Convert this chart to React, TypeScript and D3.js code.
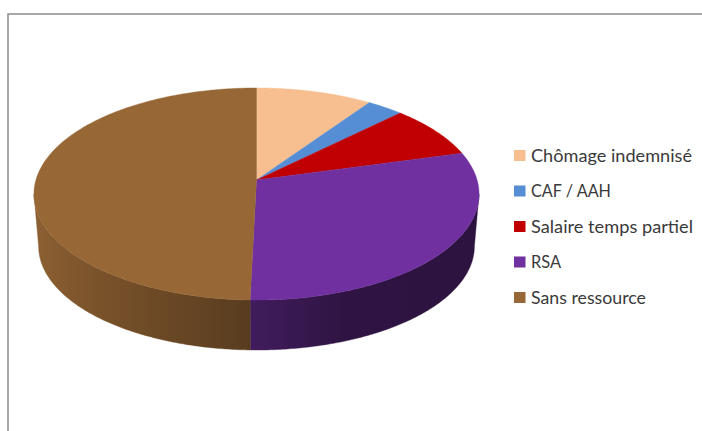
import React from "react";
import * as d3 from "d3";

// Shares of each income source, in percent
const categories = ["Chômage indemnisé", "CAF / AAH", "Salaire temps partiel", "RSA", "Sans ressource"];
const shares = [9.6, 3, 8.1, 29.7, 49.6];
const colors = ["#F7BF8F", "#558ED5", "#C00000", "#7030A0", "#976735"];

// Set width of each legend label, in pixels
const labelWidths = [161, 80, 162, 30, 115];

// Brightness of the pie's side wall from left to right
const shadeX = [38, 100, 250, 345, 475];
const shadeK = [0.92, 0.8, 0.58, 0.42, 0.4];

const WIDTH = 702;
const HEIGHT = 431;

// Perspective of the disc: the near rim appears larger than the far rim
const TILT = 0.132;
const top = { cx: 256.5, cy: 180, rx: 220.6, ry: 104.2 };
const base = { cx: 256.5, cy: 232.5, rx: 216, ry: 102 };
const frontStart = Math.acos(-TILT);
const frontEnd = 2 * Math.PI - frontStart;

type Disc = typeof top;

function project(d: Disc, angle: number): [number, number] {
  const u = Math.sin(angle);
  const v = -Math.cos(angle);
  const w = 1 - TILT * v;
  return [d.cx + (d.rx * u) / w, d.cy + (d.ry * v) / w];
}

function samples(a0: number, a1: number): number[] {
  const n = Math.max(2, Math.ceil((a1 - a0) / 0.01));
  return d3.range(n + 1).map((i) => a0 + ((a1 - a0) * i) / n);
}

const line = d3.line();
const pie = d3.pie<number>().sort(null);
const arcs = pie(shares);
const shade = d3.scaleLinear<number>().domain(shadeX).range(shadeK).clamp(true);

function scaled(color: string, k: number): string {
  const c = d3.rgb(color);
  return d3.rgb(c.r * k, c.g * k, c.b * k).formatHex();
}

export default function App() {
  const legendY = d3.scalePoint<string>().domain(categories).range([155.5, 297.5]);

  const walls = arcs
    .map((a, i) => ({ i, a0: Math.max(a.startAngle, frontStart), a1: Math.min(a.endAngle, frontEnd) }))
    .filter((w) => w.a1 > w.a0);

  return (
    <svg
      width={WIDTH}
      height={HEIGHT}
      viewBox={`0 0 ${WIDTH} ${HEIGHT}`}
      style={{ position: "absolute", left: 0, top: 0, background: "#fff" }}
    >
      <defs>
        {walls.map((w) => {
          const xs = [project(top, w.a1)[0], project(top, w.a0)[0]];
          const x0 = Math.min(...xs);
          const x1 = Math.max(...xs);
          const stops = [x0, ...shadeX.filter((x) => x > x0 && x < x1), x1];
          return (
            <linearGradient key={w.i} id={`wall-${w.i}`} gradientUnits="userSpaceOnUse" x1={x0} x2={x1} y1={0} y2={0}>
              {stops.map((x) => (
                <stop key={x} offset={(x - x0) / (x1 - x0)} stopColor={scaled(colors[w.i], shade(x))} />
              ))}
            </linearGradient>
          );
        })}
      </defs>

      <path d={`M8 431V14H${WIDTH}`} fill="none" stroke="#8C8C8C" strokeWidth={1.5} />

      {walls.map((w) => {
        const angles = samples(w.a0, w.a1);
        const pts = [...angles.map((a) => project(top, a)), ...angles.reverse().map((a) => project(base, a))];
        return <path key={w.i} d={`${line(pts)}Z`} fill={`url(#wall-${w.i})`} stroke={`url(#wall-${w.i})`} strokeWidth={0.4} />;
      })}

      {arcs.map((a, i) => {
        const pts: [number, number][] = [[top.cx, top.cy], ...samples(a.startAngle, a.endAngle).map((t) => project(top, t))];
        return <path key={i} d={`${line(pts)}Z`} fill={colors[i]} stroke={colors[i]} strokeWidth={0.4} />;
      })}

      {categories.map((name, i) => (
        <g key={name}>
          <rect x={514} y={legendY(name)! - 5.5} width={11.5} height={11} fill={colors[i]} />
          <text
            x={531}
            y={legendY(name)! + 6}
            fontFamily="Lato, 'Open Sans', sans-serif"
            fontSize={17.5}
            fill="#3a3a3a"
            textLength={labelWidths[i]}
            lengthAdjust="spacingAndGlyphs"
          >
            {name}
          </text>
        </g>
      ))}
    </svg>
  );
}
